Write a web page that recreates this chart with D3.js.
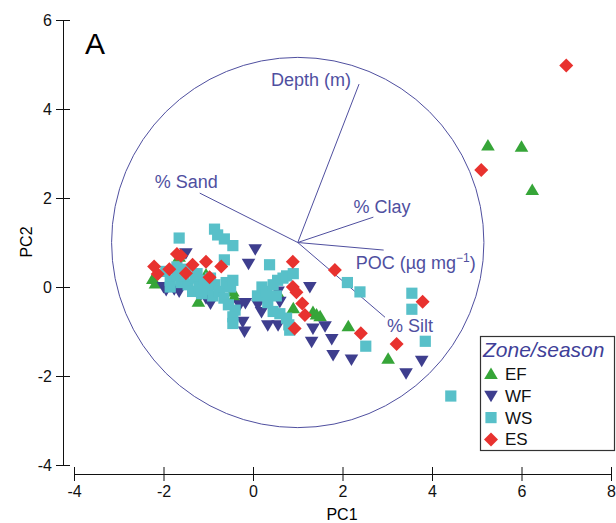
<!DOCTYPE html>
<html>
<head>
<meta charset="utf-8">
<script src="https://d3js.org/d3.v7.min.js"></script>
<style>
  body { margin: 0; background: #fff; }
  text { font-family: "Liberation Sans", Arial, sans-serif; }
</style>
</head>
<body>
<svg width="616" height="523"></svg>
<script>

// PCA scores (PC1, PC2)
var efPoints = [[-2.24, 0.18], [-2.18, 0.08], [-1.65, 0.68], [-1.22, -0.33], [-1.05, 0.28], [-0.45, -0.1],
  [-0.42, -0.22], [0.56, -0.14], [0.9, -0.48], [1.34, -0.56], [1.42, -0.62], [1.5, -0.66], [2.13, -0.88],
  [3.02, -1.61], [5.25, 3.18], [6.0, 3.15], [6.24, 2.18]];

var wfPoints = [[-2.0, 0.0], [-1.94, -0.07], [-1.76, -0.05], [-1.65, -0.1], [-1.5, 0.76], [-1.16, -0.16],
  [-1.05, -0.25], [-0.95, -0.37], [-0.3, -0.41], [-0.17, -0.36], [-0.23, -0.78], [-0.19, -1.0], [0.05, 0.85],
  [-0.1, 0.52], [0.11, -0.4], [0.19, -0.56], [0.33, -0.86], [0.56, -0.86], [0.56, -0.1], [0.6, -0.33],
  [1.27, 0.0], [1.34, -0.93], [1.31, -1.23], [1.61, -0.88], [1.76, -1.17], [1.79, -1.53], [2.2, -1.63],
  [3.42, -1.94], [3.77, -1.66]];

var wsPoints = [[-1.65, 1.1], [-0.86, 1.3], [-0.79, 1.17], [-0.64, 1.08], [-0.45, 0.93], [-0.64, 0.61], [0.37, 0.5],
  [-1.95, 0.35], [-1.85, 0.15], [-1.85, 0.0], [-1.7, 0.45], [-1.7, 0.25], [-1.6, 0.1], [-1.5, 0.4], [-1.45, 0.05],
  [-1.35, -0.1], [-1.3, 0.2], [-1.2, 0.0], [-1.1, 0.15], [-1.0, -0.05], [-0.9, -0.2], [-0.85, 0.05], [-0.75, -0.1],
  [-0.65, -0.25], [-0.6, 0.1], [-0.5, 0.0], [-0.45, 0.15], [-0.55, -0.4], [-0.4, -0.52], [-0.45, -0.67], [-0.45, -0.82],
  [-1.55, 0.25], [-1.25, 0.3], [-0.95, 0.2], [-1.15, -0.15],
  [0.1, -0.2], [0.2, 0.0], [0.3, -0.1], [0.33, -0.35], [0.45, 0.05], [0.52, -0.2], [0.55, 0.15], [0.67, 0.2],
  [0.75, 0.25], [0.9, 0.3], [0.45, -0.55], [0.6, -0.6], [0.75, -0.7], [0.8, -0.85], [0.82, -0.97],
  [2.11, 0.1], [2.39, -0.11], [2.52, -1.33], [3.55, -0.14], [3.55, -0.5], [3.85, -1.22], [4.42, -2.45]];

var esPoints = [[-2.21, 0.46], [-2.13, 0.29], [-1.87, 0.4], [-1.7, 0.74], [-1.61, 0.7], [-1.5, 0.31], [-1.35, 0.5],
  [-1.05, 0.57], [-0.97, 0.22], [-0.71, 0.46], [0.89, 0.57], [0.89, 0.0], [0.97, -0.12], [1.1, -0.37],
  [1.16, -0.63], [0.93, -0.93], [1.83, 0.38], [2.41, -1.04], [3.21, -1.28], [3.79, -0.33], [5.1, 2.63], [7.0, 4.98]];

// loading vectors (drawn from the circle centre)
var vectorNames = ["Depth (m)", "% Sand", "% Clay", "POC", "% Silt"];
var vectorEnds = [[2.37, 4.56], [-1.19, 2.11], [2.69, 1.57], [2.92, 0.83], [2.95, -0.68]];
var circleCentre = [1, 1];
var circleRadius = 4.16;

var xTicks = [-4, -2, 0, 2, 4, 6, 8];
var yTicks = [-4, -2, 0, 2, 4, 6];
var groupNames = ["EF", "WF", "WS", "ES"];

var svg = d3.select("svg");

var x = d3.scaleLinear().domain([-4, 8]).range([74, 611]);
var y = d3.scaleLinear().domain([-4, 6]).range([465, 20]);

var purple = "#4f4f9f";
var colors = {EF: "#36a538", WF: "#3e3e8e", WS: "#58c0c9", ES: "#e8322f"};

// marker shapes
function marker(type) {
  if (type == "EF") return "M0,-6.5L6.8,5L-6.8,5Z";
  if (type == "WF") return "M0,6.5L6.8,-5L-6.8,-5Z";
  if (type == "WS") return "M-5.6,-5.6H5.6V5.6H-5.6Z";
  return "M0,-7L7,0L0,7L-7,0Z";
}

var fmt = function(d) { return String(d); };   // plain hyphen, not unicode minus

// axes
var yAxis = svg.append("g").attr("transform", "translate(63,0)")
  .call(d3.axisLeft(y).tickValues(yTicks).tickFormat(fmt).tickSize(7).tickSizeOuter(0));
yAxis.selectAll(".tick line").attr("x2", 7).attr("x1", -7);
var xAxis = svg.append("g").attr("transform", "translate(0,474)")
  .call(d3.axisBottom(x).tickValues(xTicks).tickFormat(fmt).tickSize(7).tickSizeOuter(0));
xAxis.selectAll(".tick line").attr("y1", -7).attr("y2", 7);

svg.selectAll(".domain").attr("stroke", "#111");
svg.selectAll(".tick line").attr("stroke", "#111");
svg.selectAll(".tick text").attr("font-size", 16).attr("fill", "#111")
  .attr("font-family", "Liberation Sans, Arial, sans-serif");
yAxis.selectAll(".tick text").attr("x", -11);
xAxis.selectAll(".tick text").attr("y", 12);

svg.append("text").attr("x", 342).attr("y", 520).attr("text-anchor", "middle")
  .attr("font-size", 16).text("PC1");
svg.append("text").attr("transform", "translate(32,242) rotate(-90)").attr("text-anchor", "middle")
  .attr("font-size", 16).text("PC2");
svg.append("text").attr("x", 85).attr("y", 54).attr("font-size", 30).text("A");

// correlation circle
svg.append("ellipse")
  .attr("cx", x(circleCentre[0])).attr("cy", y(circleCentre[1]))
  .attr("rx", x(circleRadius) - x(0)).attr("ry", y(0) - y(circleRadius))
  .attr("fill", "none").attr("stroke", purple).attr("stroke-width", 1);

svg.selectAll(".vec").data(vectorEnds).enter().append("line")
  .attr("x1", x(circleCentre[0])).attr("y1", y(circleCentre[1]))
  .attr("x2", function(d) { return x(d[0]); }).attr("y2", function(d) { return y(d[1]); })
  .attr("stroke", purple).attr("stroke-width", 1);

// label offsets from the vector tips
var labelOffset = {"Depth (m)": [-88, 2], "% Sand": [-45, -5], "% Clay": [-20, -4], "POC": [-28, 19], "% Silt": [2, 15]};
vectorNames.forEach(function(name, i) {
  var t = svg.append("text")
    .attr("x", x(vectorEnds[i][0]) + labelOffset[name][0])
    .attr("y", y(vectorEnds[i][1]) + labelOffset[name][1])
    .attr("font-size", 18).attr("fill", purple);
  if (name == "POC") {
    t.append("tspan").text("POC (\u00b5g mg");
    t.append("tspan").attr("font-size", 12).attr("dy", -7).text("\u22121");
    t.append("tspan").attr("dy", 7).text(")");
  } else {
    t.text(name);
  }
});

// points
var groups = [efPoints, wfPoints, wsPoints, esPoints];
groups.forEach(function(pts, i) {
  var g = groupNames[i];
  svg.append("g").selectAll("path").data(pts).enter().append("path")
    .attr("d", marker(g))
    .attr("transform", function(d) { return "translate(" + x(d[0]) + "," + y(d[1]) + ")"; })
    .attr("fill", colors[g]);
});

// legend
var legend = svg.append("g");
legend.append("rect").attr("x", 480.5).attr("y", 336.5).attr("width", 134).attr("height", 114)
  .attr("fill", "#fff").attr("stroke", "#333").attr("stroke-width", 1.2);
legend.append("text").attr("x", 483).attr("y", 357).attr("font-size", 21)
  .attr("font-style", "italic").attr("fill", "#3f3f98").text("Zone/season");
groupNames.forEach(function(g, i) {
  var cy = 374 + i * 21.8;
  legend.append("path").attr("d", marker(g))
    .attr("transform", "translate(491," + cy + ")").attr("fill", colors[g]);
  legend.append("text").attr("x", 505).attr("y", cy + 6).attr("font-size", 17)
    .attr("fill", "#111").text(g);
});

</script>
</body>
</html>
